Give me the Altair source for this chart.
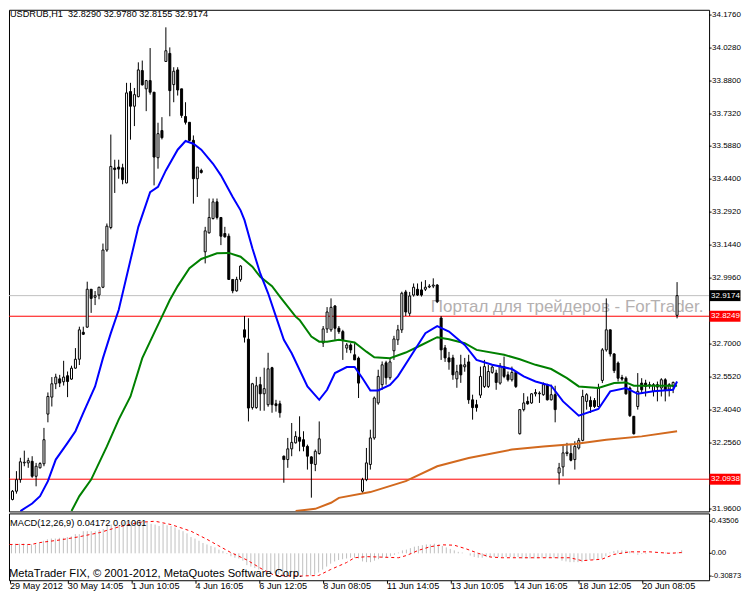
import json
import altair as alt
import pandas as pd

# ---------------- data ----------------
opens = [32.092, 32.003, 32.040, 32.092, 32.167, 32.167, 32.174, 32.107, 32.145, 32.163,
         32.386, 32.462, 32.522, 32.544, 32.531, 32.558, 32.543, 32.592, 32.632, 32.753,
         32.776, 32.946, 32.910, 32.920, 32.955, 33.122, 33.223, 33.490, 33.494, 33.491,
         33.423, 33.833, 33.767, 33.810, 33.927, 33.845, 33.882, 33.830, 33.536, 33.658,
         33.968, 34.004, 33.864, 33.930, 33.845, 33.721, 33.695, 33.614, 33.442, 33.479,
         33.114, 33.199, 33.263, 33.338, 33.268, 33.196, 33.184, 32.990, 32.939, 32.990,
         32.764, 32.722, 32.415, 32.415, 32.518, 32.477, 32.428, 32.594, 32.432, 32.432,
         32.197, 32.182, 32.230, 32.257, 32.282, 32.271, 32.241, 32.194, 32.160, 32.209,
         32.705, 32.768, 32.764, 32.871, 32.771, 32.756, 32.682, 32.696, 32.652, 32.637,
         32.040, 32.092, 32.160, 32.279, 32.436, 32.518, 32.616, 32.549, 32.670, 32.719,
         32.764, 32.934, 32.838, 32.920, 32.946, 32.943, 32.946, 32.956, 32.960, 32.965,
         32.817, 32.683, 32.638, 32.638, 32.544, 32.607, 32.598, 32.620, 32.450, 32.428,
         32.471, 32.510, 32.510, 32.573, 32.570, 32.525, 32.599, 32.562, 32.540, 32.573,
         32.298, 32.406, 32.443, 32.436, 32.477, 32.477, 32.473, 32.518, 32.450, 32.473,
         32.122, 32.149, 32.209, 32.209, 32.182, 32.234, 32.268, 32.443, 32.447, 32.447,
         32.420, 32.537, 32.674, 32.764, 32.656, 32.615, 32.550, 32.547, 32.503, 32.376,
         32.420, 32.525, 32.525, 32.513, 32.488, 32.518, 32.503, 32.540, 32.498, 32.510,
         32.8290]
highs = [32.115, 32.045, 32.130, 32.190, 32.222, 32.190, 32.197, 32.167, 32.170, 32.324,
         32.483, 32.552, 32.567, 32.562, 32.625, 32.577, 32.603, 32.682, 32.778, 32.778,
         32.980, 32.946, 32.938, 32.957, 33.151, 33.241, 33.640, 33.527, 33.527, 33.509,
         33.872, 33.872, 33.849, 33.964, 33.972, 33.885, 34.028, 33.830, 33.693, 33.718,
         34.121, 34.031, 33.942, 33.942, 33.845, 33.785, 33.695, 33.636, 33.494, 33.487,
         33.226, 33.353, 33.353, 33.353, 33.268, 33.226, 33.196, 32.990, 33.002, 33.054,
         32.826, 32.816, 32.526, 32.553, 32.553, 32.594, 32.661, 32.598, 32.450, 32.446,
         32.200, 32.279, 32.346, 32.309, 32.376, 32.309, 32.249, 32.197, 32.227, 32.353,
         32.781, 32.866, 32.905, 32.875, 32.781, 32.764, 32.705, 32.704, 32.704, 32.644,
         32.100, 32.234, 32.316, 32.465, 32.585, 32.622, 32.625, 32.634, 32.737, 32.786,
         32.935, 32.943, 32.934, 32.972, 32.972, 32.980, 32.987, 32.969, 32.995, 32.969,
         32.826, 32.696, 32.665, 32.652, 32.607, 32.652, 32.638, 32.652, 32.473, 32.450,
         32.599, 32.629, 32.607, 32.607, 32.585, 32.615, 32.644, 32.577, 32.599, 32.577,
         32.406, 32.480, 32.465, 32.480, 32.498, 32.488, 32.528, 32.522, 32.518, 32.513,
         32.167, 32.249, 32.257, 32.249, 32.264, 32.279, 32.495, 32.480, 32.465, 32.458,
         32.522, 32.682, 32.905, 32.764, 32.659, 32.622, 32.562, 32.555, 32.510, 32.376,
         32.570, 32.547, 32.540, 32.531, 32.525, 32.532, 32.547, 32.547, 32.525, 32.532,
         32.9780]
lows = [32.003, 31.999, 32.029, 32.078, 32.152, 32.145, 32.100, 32.062, 32.142, 32.152,
        32.349, 32.420, 32.498, 32.507, 32.514, 32.462, 32.540, 32.589, 32.606, 32.741,
        32.773, 32.840, 32.875, 32.901, 32.951, 33.114, 33.215, 33.378, 33.442, 33.417,
        33.421, 33.617, 33.678, 33.807, 33.860, 33.745, 33.819, 33.412, 33.487, 33.618,
        33.967, 33.722, 33.785, 33.815, 33.715, 33.685, 33.611, 33.330, 33.360, 33.465,
        33.062, 33.196, 33.259, 33.259, 33.144, 33.178, 32.990, 32.928, 32.935, 32.980,
        32.707, 32.353, 32.406, 32.410, 32.401, 32.401, 32.419, 32.392, 32.397, 32.370,
        32.078, 32.145, 32.197, 32.254, 32.219, 32.219, 32.137, 32.011, 32.130, 32.204,
        32.687, 32.750, 32.755, 32.719, 32.746, 32.629, 32.661, 32.659, 32.629, 32.458,
        32.033, 32.085, 32.137, 32.271, 32.428, 32.495, 32.518, 32.540, 32.629, 32.696,
        32.750, 32.826, 32.826, 32.913, 32.916, 32.913, 32.938, 32.951, 32.951, 32.884,
        32.629, 32.620, 32.585, 32.540, 32.504, 32.526, 32.576, 32.432, 32.361, 32.397,
        32.458, 32.503, 32.503, 32.567, 32.495, 32.518, 32.547, 32.532, 32.532, 32.503,
        32.294, 32.398, 32.428, 32.432, 32.465, 32.436, 32.468, 32.447, 32.447, 32.349,
        32.070, 32.107, 32.197, 32.174, 32.137, 32.227, 32.264, 32.406, 32.391, 32.413,
        32.418, 32.525, 32.666, 32.644, 32.570, 32.532, 32.535, 32.473, 32.373, 32.294,
        32.406, 32.480, 32.465, 32.500, 32.465, 32.443, 32.465, 32.443, 32.465, 32.480,
        32.8155]
closes = [32.007, 32.040, 32.092, 32.172, 32.170, 32.177, 32.107, 32.152, 32.164, 32.271,
          32.465, 32.522, 32.552, 32.525, 32.552, 32.532, 32.592, 32.632, 32.764, 32.744,
          32.946, 32.905, 32.917, 32.955, 33.122, 33.229, 33.497, 33.483, 33.485, 33.438,
          33.827, 33.767, 33.819, 33.930, 33.863, 33.882, 33.830, 33.539, 33.644, 33.626,
          34.016, 33.837, 33.924, 33.840, 33.726, 33.695, 33.614, 33.442, 33.494, 33.470,
          33.208, 33.268, 33.338, 33.268, 33.184, 33.181, 32.990, 32.939, 32.990, 33.050,
          32.731, 32.413, 32.522, 32.513, 32.477, 32.500, 32.589, 32.428, 32.424, 32.392,
          32.182, 32.230, 32.259, 32.286, 32.264, 32.241, 32.197, 32.164, 32.219, 32.275,
          32.768, 32.844, 32.865, 32.771, 32.756, 32.719, 32.696, 32.674, 32.629, 32.525,
          32.092, 32.167, 32.279, 32.458, 32.555, 32.607, 32.549, 32.620, 32.723, 32.764,
          32.928, 32.844, 32.916, 32.955, 32.920, 32.920, 32.955, 32.960, 32.965, 32.890,
          32.674, 32.638, 32.620, 32.562, 32.576, 32.562, 32.607, 32.450, 32.415, 32.415,
          32.555, 32.599, 32.577, 32.597, 32.528, 32.602, 32.555, 32.540, 32.573, 32.510,
          32.406, 32.436, 32.432, 32.477, 32.483, 32.480, 32.518, 32.450, 32.473, 32.406,
          32.145, 32.212, 32.215, 32.179, 32.241, 32.268, 32.465, 32.473, 32.420, 32.420,
          32.503, 32.674, 32.764, 32.656, 32.581, 32.547, 32.543, 32.477, 32.379, 32.298,
          32.488, 32.495, 32.510, 32.518, 32.518, 32.507, 32.540, 32.495, 32.518, 32.528,
          32.9174]

# moving averages (bar index, value)
ma_blue_bar = [3, 6, 8, 10, 12, 15, 17, 19, 22, 24, 26, 28, 31, 33, 36, 38, 40, 43, 45,
               47, 49, 52, 54, 57, 59, 60, 62, 64, 66, 68, 70, 72, 76, 79, 81, 83, 86, 88, 90,
               92, 94, 97, 99, 103, 106, 109, 112, 116, 119, 123, 128, 131, 134, 138, 141, 145,
               150, 153, 157, 160, 164, 169, 170]
ma_blue_val = [31.951, 31.985, 32.018, 32.085, 32.182, 32.257, 32.309, 32.391, 32.510,
               32.637, 32.749, 32.853, 33.077, 33.226, 33.382, 33.405, 33.479, 33.572, 33.611,
               33.599, 33.572, 33.509, 33.457, 33.360, 33.300, 33.256, 33.130, 33.017, 32.928,
               32.823, 32.719, 32.659, 32.510, 32.450, 32.495, 32.570, 32.597, 32.597, 32.547,
               32.492, 32.492, 32.517, 32.555, 32.666, 32.749, 32.781, 32.756, 32.696, 32.629,
               32.607, 32.588, 32.555, 32.532, 32.513, 32.443, 32.379, 32.409, 32.488, 32.503,
               32.477, 32.488, 32.495, 32.532]
ma_green_bar = [16, 18, 21, 25, 28, 31, 34, 37, 39, 41, 43, 46, 49, 53, 56, 59, 62, 64, 67,
                69, 73, 74, 77, 79, 81, 84, 88, 91, 93, 97, 101, 105, 109, 112, 116, 119, 126,
                130, 134, 138, 142, 145, 150, 154, 157, 159, 170]
ma_green_val = [31.951, 32.018, 32.092, 32.241, 32.361, 32.465, 32.637, 32.749, 32.823,
                32.898, 32.960, 33.040, 33.082, 33.107, 33.109, 33.092, 33.047, 33.002, 32.960,
                32.913, 32.823, 32.808, 32.734, 32.711, 32.711, 32.719, 32.707, 32.666, 32.641,
                32.637, 32.662, 32.696, 32.731, 32.722, 32.704, 32.674, 32.652, 32.632, 32.607,
                32.588, 32.547, 32.510, 32.503, 32.525, 32.528, 32.513, 32.513]
ma_orange_bar = [73, 78, 82, 84, 92, 101, 109, 117, 128, 136, 144, 152, 161, 170]
ma_orange_val = [31.951, 31.961, 31.988, 32.010, 32.036, 32.085, 32.152, 32.189, 32.227,
                 32.241, 32.252, 32.271, 32.286, 32.309]

macd_main = [0.12, 0.12, 0.12, 0.13, 0.13, 0.13, 0.12, 0.12, 0.12, 0.14,
             0.17, 0.19, 0.20, 0.20, 0.21, 0.21, 0.22, 0.23, 0.26, 0.26,
             0.30, 0.30, 0.30, 0.30, 0.32, 0.33, 0.38, 0.39, 0.39, 0.38,
             0.42, 0.43, 0.43, 0.435, 0.435, 0.43, 0.43, 0.40, 0.39, 0.37,
             0.40, 0.38, 0.37, 0.35, 0.32, 0.30, 0.27, 0.22, 0.20, 0.17,
             0.14, 0.12, 0.10, 0.08, 0.05, 0.03, -0.01, -0.04, -0.06, -0.07,
             -0.10, -0.16, -0.18, -0.20, -0.22, -0.23, -0.24, -0.26, -0.27, -0.28,
             -0.30, -0.305, -0.309, -0.309, -0.305, -0.30, -0.30, -0.30, -0.29, -0.26,
             -0.22, -0.18, -0.14, -0.11, -0.09, -0.08, -0.07, -0.06, -0.06, -0.07,
             -0.11, -0.12, -0.12, -0.10, -0.08, -0.06, -0.05, -0.04, -0.02, 0.01,
             0.04, 0.05, 0.07, 0.09, 0.10, 0.11, 0.12, 0.12, 0.13, 0.12,
             0.10, 0.08, 0.06, 0.04, 0.02, 0.01, 0.00, -0.03, -0.05, -0.06,
             -0.06, -0.05, -0.05, -0.05, -0.05, -0.05, -0.05, -0.05, -0.05, -0.05,
             -0.07, -0.07, -0.07, -0.07, -0.07, -0.06, -0.06, -0.06, -0.06, -0.07,
             -0.10, -0.11, -0.12, -0.12, -0.12, -0.12, -0.10, -0.09, -0.09, -0.08,
             -0.07, -0.04, 0.01, 0.03, 0.04, 0.04, 0.04, 0.03, 0.01, -0.02,
             -0.01, -0.01, 0.00, 0.00, 0.00, 0.00, 0.01, 0.01, 0.01, 0.01,
             0.04172]
signal_bar = [0, 7, 9, 14, 19, 24, 29, 34, 38, 42, 47, 51, 54, 57, 61, 65, 68, 74, 79, 82,
              86, 88, 91, 94, 99, 101, 104, 107, 110, 113, 116, 119, 122, 125, 142, 145, 150,
              153, 157, 162, 167, 170]
signal_val = [0.12, 0.12, 0.145, 0.18, 0.225, 0.28, 0.36, 0.42, 0.435, 0.39, 0.30, 0.19,
              0.10, 0.01, -0.09, -0.22, -0.30, -0.309, -0.30, -0.22, -0.125, -0.06, -0.045,
              -0.05, -0.06, -0.03, 0.04, 0.09, 0.115, 0.11, 0.06, 0.0, -0.05, -0.06, -0.06,
              -0.10, -0.08, -0.015, 0.02, 0.02, 0.0, 0.01061]

date_ticks = [0, 16, 32, 48, 64, 80, 96, 112, 128, 144, 160]
date_labels = ["29 May 2012", "30 May 14:05", "1 Jun 10:05", "4 Jun 16:05", "6 Jun 12:05",
               "8 Jun 08:05", "11 Jun 14:05", "13 Jun 10:05", "14 Jun 16:05", "18 Jun 12:05",
               "20 Jun 08:05"]
price_ticks = [34.176, 34.028, 33.880, 33.732, 33.588, 33.440, 33.292, 33.144, 32.996,
               32.700, 32.552, 32.404, 32.256, 31.960]
macd_ticks = [0.43506, 0.0, -0.30873]
macd_tick_labels = ["0.43506", "0.00", "-0.30873"]
level_prices = [32.9174, 32.8249, 32.0938]
level_labels = ["32.9174", "32.8249", "32.0938"]
level_line_colors = ["#C0C0C0", "#FF0000", "#FF0000"]
level_box_colors = ["#000000", "#FF0000", "#FF0000"]

title_text = "USDRUB,H1\u00a0 32.8290 32.9780 32.8155 32.9174"
macd_text = "MACD(12,26,9) 0.04172 0.01061"
copyright_text = "MetaTrader FIX, \u00a9 2001-2012, MetaQuotes Software Corp."
watermark_text = "Портал для трейдеров - ForTrader.ru"

# ---------------- chart ----------------
FONT = "Liberation Sans"
FS_AX = 8.0
W, H_MAIN, H_MACD = 702, 503, 67
X_DOM = [1.375, 176.875]

candles = pd.DataFrame({"i": list(range(len(opens))), "o": opens, "h": highs,
                        "l": lows, "c": closes})
xs = alt.Scale(domain=X_DOM, nice=False, zero=False)
ys = alt.Scale(domain=[31.9493, 34.1997], nice=False, zero=False)
ms = alt.Scale(domain=[-0.365, 0.541], nice=False, zero=False)


def PX():
    return alt.X("i:Q", scale=xs, axis=None, title=None)


def PY(field):
    return alt.Y(field, scale=ys, axis=None, title=None)


def MY(field):
    return alt.Y(field, scale=ms, axis=None, title=None)


levels = pd.DataFrame({"p": level_prices, "lab": level_labels,
                       "lc": level_line_colors, "bc": level_box_colors})
pticks = pd.DataFrame({"p": price_ticks, "lab": [f"{v:.4f}" for v in price_ticks]})
mticks = pd.DataFrame({"p": macd_ticks, "lab": macd_tick_labels})

watermark = alt.Chart(pd.DataFrame({"t": [watermark_text]})).mark_text(
    align="left", baseline="middle", font=FONT, fontSize=17, color="#B4B0B0",
    clip=True, limit=279, ellipsis=" "
).encode(x=alt.value(423), y=alt.value(298), text="t:N")

level_lines = alt.Chart(levels).mark_rule(strokeWidth=1, clip=True).encode(
    y=PY("p:Q"), color=alt.Color("lc:N", scale=None))

wicks = alt.Chart(candles).mark_rule(color="black", strokeWidth=1, clip=True).encode(
    x=PX(), y=PY("l:Q"), y2="h:Q")

bodies = alt.Chart(candles).mark_bar(size=2, stroke="black", strokeWidth=1,
                                     clip=True).encode(
    x=PX(), y=PY("o:Q"), y2="c:Q",
    fill=alt.condition("datum.c >= datum.o", alt.value("white"), alt.value("black")))


def ma_layer(bars, vals, color):
    df = pd.DataFrame({"i": bars, "v": vals})
    return alt.Chart(df).mark_line(color=color, strokeWidth=2, clip=True).encode(
        x=PX(), y=PY("v:Q"))


ma_orange = ma_layer(ma_orange_bar, ma_orange_val, "#D2691E")
ma_green = ma_layer(ma_green_bar, ma_green_val, "#008000")
ma_blue = ma_layer(ma_blue_bar, ma_blue_val, "#0000FF")

# right-hand price scale: tick marks + labels
ptick_marks = alt.Chart(pticks).mark_rule(color="black", strokeWidth=1).encode(
    y=PY("p:Q"), x=alt.value(W), x2=alt.value(W + 2.5))
ptick_text = alt.Chart(pticks).mark_text(
    align="left", baseline="middle", font=FONT, fontSize=FS_AX, color="black"
).encode(y=PY("p:Q"), x=alt.value(W + 3), text="lab:N")

boxes = alt.Chart(levels).mark_tick(orient="horizontal", size=31, thickness=11,
                                    opacity=1).encode(
    y=PY("p:Q"), x=alt.value(W + 16), color=alt.Color("bc:N", scale=None))
box_text = alt.Chart(levels).mark_text(
    align="left", baseline="middle", color="white", font=FONT, fontSize=FS_AX
).encode(y=PY("p:Q"), x=alt.value(W + 2), text="lab:N")

title = alt.Chart(pd.DataFrame({"t": [title_text]})).mark_text(
    align="left", baseline="top", font=FONT, fontSize=9.2, color="black"
).encode(x=alt.value(1), y=alt.value(0), text="t:N")

main = alt.layer(watermark, level_lines, wicks, bodies, ma_orange, ma_green, ma_blue,
                 ptick_marks, ptick_text, boxes, box_text, title
                 ).properties(width=W, height=H_MAIN)

# MACD panel
hist = pd.DataFrame({"i": list(range(len(macd_main))), "v": macd_main,
                     "z": [0.0] * len(macd_main)})
labels_js = json.dumps(date_labels)
tick_pos = [max(t, 1.5) for t in date_ticks]
x_axis = alt.Axis(orient="bottom", values=tick_pos,
                  labelExpr=labels_js + "[round(datum.value / 16)]",
                  labelAlign="left", labelFlush=False, labelOverlap=False, tickSize=3,
                  labelPadding=-2, domain=False, grid=False, labelFont=FONT,
                  labelFontSize=9.2, labelColor="black", tickColor="black")

hist_layer = alt.Chart(hist).mark_rule(color="#C0C0C0", strokeWidth=1, clip=True).encode(
    x=alt.X("i:Q", scale=xs, axis=x_axis, title=None), y=MY("z:Q"), y2="v:Q")
sig = pd.DataFrame({"i": signal_bar, "v": signal_val})
sig_layer = alt.Chart(sig).mark_line(color="#FF0000", strokeWidth=1, strokeDash=[3, 3],
                                     clip=True).encode(
    x=alt.X("i:Q", scale=xs, title=None), y=MY("v:Q"))
mtick_marks = alt.Chart(mticks).mark_rule(color="black", strokeWidth=1).encode(
    y=MY("p:Q"), x=alt.value(W), x2=alt.value(W + 2.5))
mtick_text = alt.Chart(mticks).mark_text(
    align="left", baseline="middle", font=FONT, fontSize=7.5, color="black"
).encode(y=MY("p:Q"), x=alt.value(W + 2.5), text="lab:N")
macd_title = alt.Chart(pd.DataFrame({"t": [macd_text]})).mark_text(
    align="left", baseline="middle", font=FONT, fontSize=9.3, color="black"
).encode(x=alt.value(1), y=alt.value(10), text="t:N")
copy_txt = alt.Chart(pd.DataFrame({"t": [copyright_text]})).mark_text(
    align="left", baseline="middle", font=FONT, fontSize=11.2, color="black"
).encode(x=alt.value(0), y=alt.value(61), text="t:N")

macd = alt.layer(hist_layer, sig_layer, mtick_marks, mtick_text, macd_title, copy_txt
                 ).properties(width=W, height=H_MACD)

chart = alt.vconcat(main, macd, spacing=2, bounds="flush").properties(
    padding={"left": 0, "top": 0, "right": 0, "bottom": 0},
    background="white",
).configure_view(stroke="black", strokeWidth=1)

chart.save("out.html", embed_options={"renderer": "svg", "actions": False})
